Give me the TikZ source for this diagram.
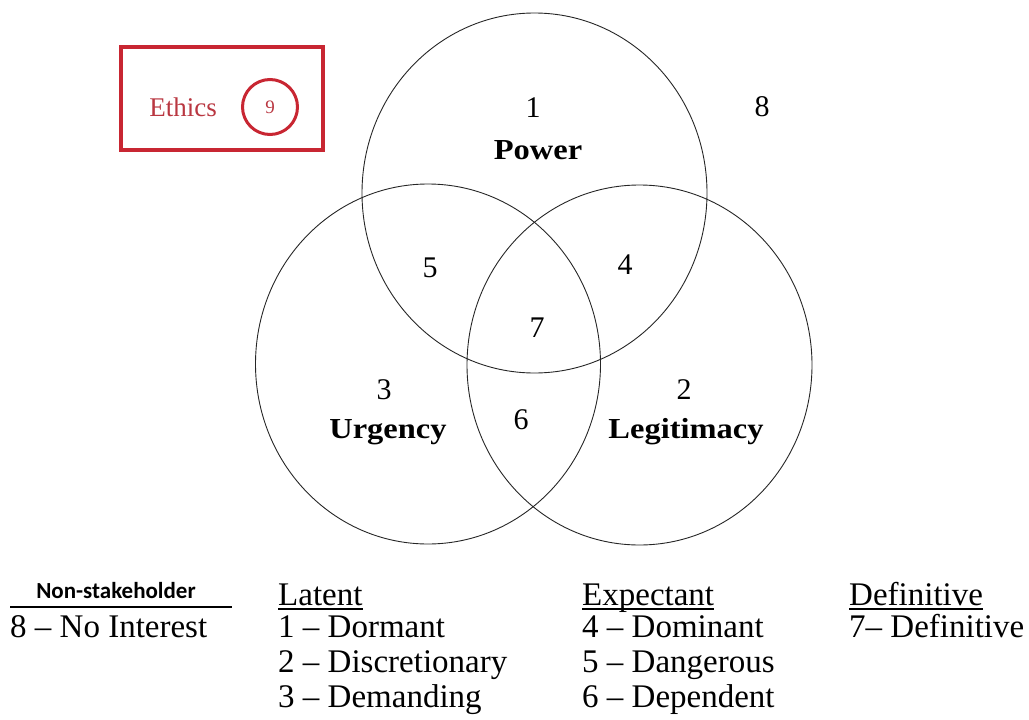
\documentclass[tikz,border=0pt]{standalone}
\usepackage{fontspec}
\setmainfont{Liberation Serif}
\newfontfamily\wideserif[FakeStretch=1.12]{Liberation Serif}
\newfontfamily\calib{Carlito}
\definecolor{ethred}{RGB}{200,38,50}
\definecolor{ethtext}{RGB}{185,55,65}
\begin{document}
\begin{tikzpicture}[x=1pt,y=-1pt,
  ring/.style={draw=black!85,line width=0.9pt},
  num/.style={inner sep=0pt,font=\fontsize{30}{30}\selectfont},
  lab/.style={inner sep=0pt,font=\wideserif\bfseries\fontsize{29}{29}\selectfont},
  leg/.style={inner sep=0pt,anchor=base west,font=\fontsize{33}{33}\selectfont},
  uline/.style={line width=1.2pt}]
\useasboundingbox (0,0) rectangle (1029,720);
% circles
\draw[ring] (534.5,193) ellipse [x radius=172.5, y radius=180];
\draw[ring] (428,364) ellipse [x radius=172.5, y radius=180];
\draw[ring] (639.5,365) ellipse [x radius=172.5, y radius=180];
% region labels
\node[num] (n1) at (533,108) {1};
\node[lab] (power) at (538,150) {Power};
\node[num] (n8) at (762,107) {8};
\node[num] (n5) at (430,268) {5};
\node[num] (n4) at (625,265) {4};
\node[num] (n7) at (537,328) {7};
\node[num] (n3) at (384,390) {3};
\node[lab] (urg) at (388,432) {Urgency};
\node[num] (n6) at (521,420) {6};
\node[num] (n2) at (684,390) {2};
\node[lab] (legit) at (686,432) {Legitimacy};
% ethics box
\node[draw=ethred,line width=4pt,minimum width=202pt,minimum height=103pt,inner sep=0pt] (ebox) at (222,98.5) {};
\node[inner sep=0pt,text=ethtext,font=\fontsize{27}{27}\selectfont] (eth) at (183,107) {Ethics};
\node[circle,draw=ethred,line width=3pt,minimum size=55pt,inner sep=0pt,text=ethtext,font=\fontsize{19}{19}\selectfont] (n9) at (270,107) {9};
% legend
\node[inner sep=0pt,anchor=base,font=\calib\bfseries\fontsize{23}{23}\selectfont] (nonh) at (116,598) {Non-stakeholder};
\coordinate (rl) at (10,607);
\coordinate (rr) at (232,607);
\draw[line width=2.4pt] (rl) -- (rr);
\node[leg] (l8) at (10,637) {8 -- No Interest};

\node[leg] (lat) at (278,605) {Latent};
\draw[uline] ([yshift=-4pt]lat.base west) -- ([yshift=-4pt]lat.base east);
\node[leg] (l1) at (278,637) {1 -- Dormant};
\node[leg] (l2) at (278,672) {2 -- Discretionary};
\node[leg] (l3) at (278,707) {3 -- Demanding};

\node[leg] (exp) at (582,605) {Expectant};
\draw[uline] ([yshift=-4pt]exp.base west) -- ([yshift=-4pt]exp.base east);
\node[leg] (l4) at (582,637) {4 -- Dominant};
\node[leg] (l5) at (582,672) {5 -- Dangerous};
\node[leg] (l6) at (582,707) {6 -- Dependent};

\node[leg] (def) at (849,605) {Definitive};
\draw[uline] ([yshift=-4pt]def.base west) -- ([yshift=-4pt]def.base east);
\node[leg] (l7) at (849,637) {7-- Definitive};
\end{tikzpicture}
\end{document}
